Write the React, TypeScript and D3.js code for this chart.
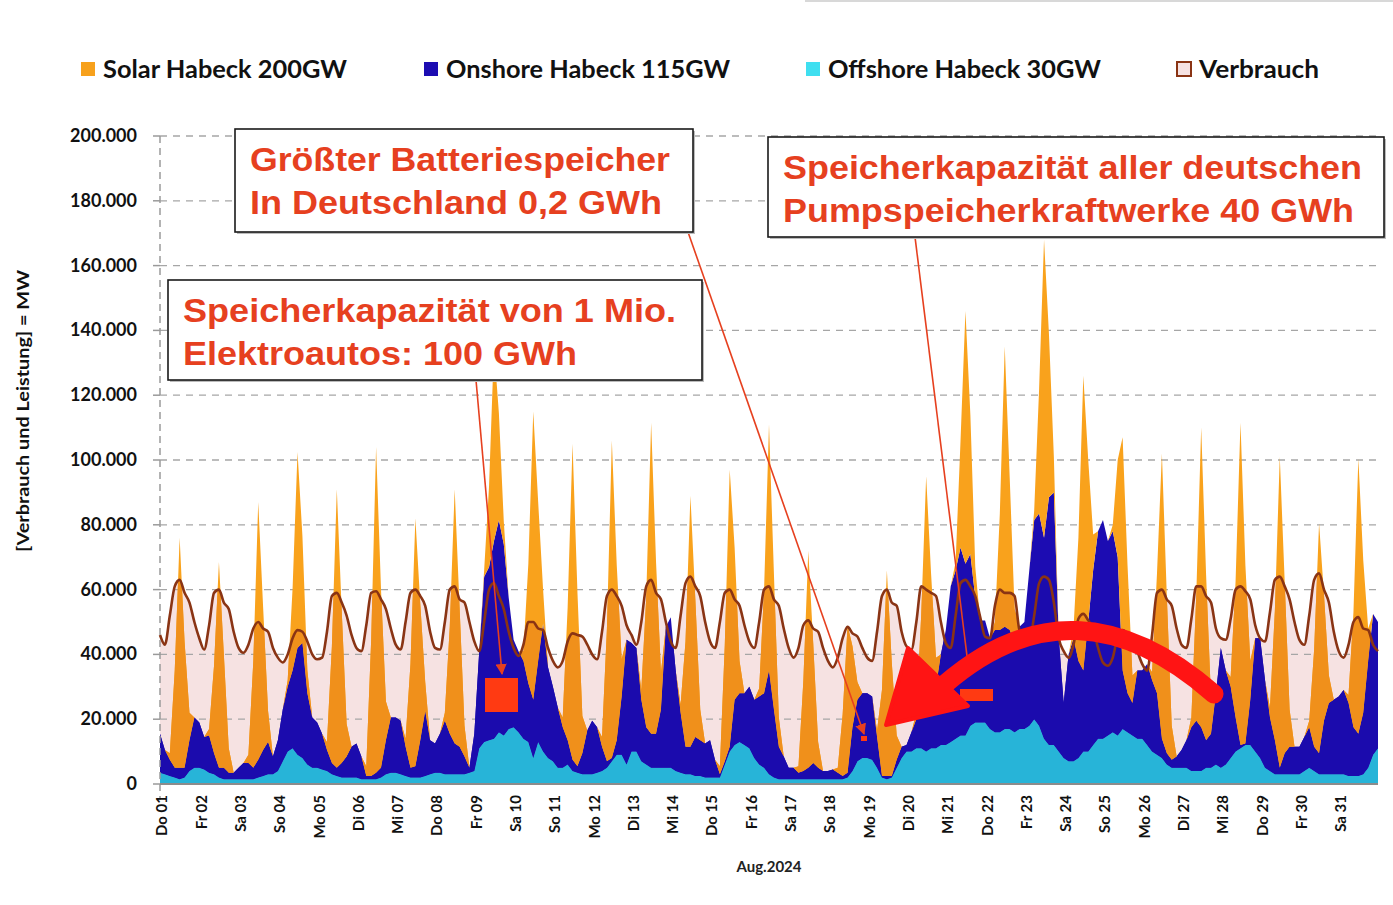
import React, { useEffect, useRef } from 'react';
import * as d3 from 'd3';

const dayLabels = ['Do 01', 'Fr 02', 'Sa 03', 'So 04', 'Mo 05', 'Di 06', 'Mi 07', 'Do 08', 'Fr 09', 'Sa 10', 'So 11', 'Mo 12', 'Di 13', 'Mi 14', 'Do 15', 'Fr 16', 'Sa 17', 'So 18', 'Mo 19', 'Di 20', 'Mi 21', 'Do 22', 'Fr 23', 'Sa 24', 'So 25', 'Mo 26', 'Di 27', 'Mi 28', 'Do 29', 'Fr 30', 'Sa 31'];

// all values in 1000 MW, one row per day, 3-hour steps 00,03,06,09,12,15,18,21
const offshore = [
  [3.5, 3, 2.5, 2, 1.5, 2, 4, 5], [5, 4.5, 3.5, 3, 2, 1.5, 1.5, 1.5], [1.5, 1.5, 1.5, 1.5, 2, 2.5, 3, 3],
  [4, 7, 10, 11, 9, 8, 6, 5], [5, 4.5, 4, 3, 2.5, 2, 2, 2], [2, 1.5, 1.5, 1.5, 1.5, 2, 3, 3.5],
  [3.5, 3, 2.5, 2, 2, 2, 2.5, 3], [3.5, 3.5, 3, 3, 3, 3, 3, 3.5], [4, 11, 13, 13.5, 14, 16, 15, 17],
  [17.5, 16, 14, 13, 8, 13, 10, 8], [7, 5, 5, 6, 4, 3.5, 3, 3], [3, 3.5, 4, 5, 7, 9, 9, 6],
  [10, 10, 7, 6, 5, 5, 5, 5], [5, 4, 3.5, 3, 3, 2.5, 2.5, 2], [2, 2, 2, 6, 10, 12, 13, 12],
  [11, 8, 6, 5, 3, 2, 1.5, 1.5], [1.5, 1.5, 1.5, 1.5, 1.5, 1.5, 1.5, 1.5], [1.5, 1.5, 1.5, 1.5, 2, 4, 7, 8],
  [8, 7.5, 5, 2, 1.5, 2, 5, 8], [10, 10, 11, 11, 10, 11, 11, 12], [12, 13, 14, 15, 15, 18, 19, 19],
  [19, 17, 16, 16, 17, 17, 16, 17], [17, 18, 20, 18, 14, 12, 12, 10], [8, 7, 7, 8, 10, 10, 12, 14],
  [14, 15, 16, 15, 17, 16, 15, 14], [14, 12, 10, 9, 8, 6, 5, 5], [5, 5, 4, 4, 4, 5, 5, 6],
  [5, 6, 8, 10, 11, 12, 12, 10], [8, 5, 4, 3, 3, 3, 3, 3], [3, 4, 5, 4, 3, 3, 3, 3],
  [3, 3, 2.5, 2.5, 2.5, 3, 5, 9],
];

const onshore = [
  [12, 7.5, 5, 3, 3.5, 3, 9.5, 15.5], [14, 10, 11.5, 6.5, 3, 3.5, 2, 2], [3.5, 5, 5, 3.5, 5.5, 8, 10, 5.5],
  [9.5, 16, 20, 24, 33, 35.5, 22, 15.5], [14, 11, 6.5, 3.5, 2.5, 4.5, 6.5, 9.5], [10.5, 7, 1, 1, 2, 3, 10.5, 17],
  [17, 16.5, 9, 3, 3.5, 11.5, 20, 10.5], [9, 12, 16.5, 12.5, 9.5, 8.5, 5.5, 1.5], [11.5, 30, 51, 53.5, 61, 65.5, 59, 40.5],
  [27, 25, 24, 18, 18, 25, 39.5, 28], [23, 18.5, 12.5, 7.5, 3.5, 2, 6.5, 13.5], [16.5, 14, 7.5, 2, 1, 4.5, 18, 38.5],
  [33.5, 32, 19, 11.5, 10.5, 10.5, 18, 43.5], [46.5, 31, 18.5, 8.5, 8.5, 12, 11, 10.5], [11.5, 5.5, 1, 1, 1.5, 14, 15, 16],
  [19, 18, 21, 23, 32, 21, 10, 7], [3.5, 3.5, 2, 2.5, 3.5, 5, 3.5, 2.5], [2.5, 3, 2, 1, 1.5, 13.5, 19, 20],
  [20, 19.5, 9.5, 0.5, 1, 0.5, 2.5, 3.5], [2, 6, 9, 11, 12, 14, 19, 28], [35.5, 48, 52, 58, 53, 53, 38.5, 31.5],
  [31.5, 28, 31.5, 31.5, 31.5, 30.5, 27.5, 31.5], [33, 48, 61.5, 65.5, 62, 76.5, 78, 35], [17, 33, 38, 30, 25, 40, 54, 64],
  [67.5, 60, 62, 55, 18, 12, 10, 21], [21, 25, 22, 19, 6, 3.5, 2.5, 3.5], [5.5, 8.5, 13.5, 15.5, 13.5, 8.5, 10.5, 22],
  [37, 29, 22, 10.5, 1, 0.5, 14, 35], [37, 27, 16.5, 10.5, 2, 6.5, 8.5, 8.5], [8.5, 10.5, 12.5, 7.5, 6.5, 16.5, 22, 23],
  [24, 26, 22.5, 15, 13, 19, 33, 43.5],
];

// solar only during daylight: 06,09,12,15,18 h
const solar = [
  [2, 30, 71, 39, 8.5], [2, 27, 63.5, 35, 7.5], [2.5, 33, 79.5, 44, 9.5], [2, 25.5, 60.5, 33, 7],
  [2.5, 36, 86, 47, 10], [3, 42, 100.5, 55, 12], [2.5, 32, 76.5, 42, 9], [2.5, 33, 78.5, 43, 9.5],
  [2, 25, 60, 33, 7], [3, 37, 89, 49, 10.5], [3, 41, 97.5, 53.5, 11.5], [3, 41, 98, 54, 11.5],
  [3, 40, 96, 53, 11.5], [2.5, 32.5, 77.5, 42.5, 9.5], [2.5, 36, 85.5, 47, 10], [2.5, 32, 76, 42, 9],
  [2, 28, 67, 37, 8], [1.5, 19, 45.5, 25, 5.5], [2, 26.5, 63.5, 35, 7.5], [2, 30.5, 73, 40, 9],
  [2.5, 33, 78, 43, 9.5], [2.5, 36, 86.5, 47.5, 10.5], [3, 38.5, 92, 50.5, 11], [3, 38, 91, 50, 11],
  [2, 30, 72, 39.5, 8.5], [2.5, 37, 88, 48.5, 10.5], [3, 39, 92.5, 51, 11], [3, 42, 99.5, 55, 12],
  [3, 40, 96, 53, 11.5], [2, 30, 71, 39, 8.5], [2.5, 35.5, 85, 47, 10],
];

const verbrauch = [
  [46, 43, 52, 61, 63, 59, 56, 50], [45, 41.5, 49, 59, 60, 56, 54, 47], [42, 40.5, 43, 48, 50, 48, 47, 42],
  [39, 37.5, 40, 45, 47.5, 47, 44, 40], [38.5, 39, 47, 58, 59, 56, 52, 46], [42, 41, 49, 59, 59.5, 57, 54, 48],
  [43, 41.5, 50, 59, 60, 58, 55, 47], [42, 41.5, 50, 60, 61, 57, 56, 50], [44, 41, 50, 60, 62, 58, 54, 47],
  [42, 39.5, 43, 50, 50, 48, 47.5, 42], [38, 36, 38, 44, 46.5, 46, 45.5, 43], [40, 38.5, 47, 58, 60, 58, 55, 49],
  [46, 43, 50, 61, 63, 59, 57, 50], [44, 42, 52, 62, 64, 61, 58, 50], [44, 42, 50, 59, 60, 57, 55, 49],
  [44, 42, 50, 60, 61, 57, 55, 48], [42, 39, 42, 49, 50.5, 48, 47, 42], [38, 36, 39, 45, 48.5, 46.5, 45.5, 42],
  [39, 38, 47, 58, 60, 56, 55, 47], [42.5, 41.5, 50, 61, 60, 59, 58, 50], [43.5, 42, 52, 62, 63, 61, 58, 51.5],
  [45.5, 45, 55, 60, 59, 59, 58, 47.5], [45.5, 44, 52, 62, 64, 63, 56, 45], [41, 39, 43, 51, 52.5, 50.5, 48, 42],
  [37.5, 36.5, 39, 45.5, 47.5, 46.5, 45.5, 41], [37, 35, 46, 59, 60, 57, 55, 48], [43, 42, 51, 61, 61, 58, 56, 48],
  [45, 44.5, 51, 60, 61, 59.5, 57, 49], [45, 44, 53, 63, 64, 61, 57, 50], [44.5, 43, 52, 63, 65, 60, 56, 47],
  [41, 39, 43, 50, 51.5, 48, 47.5, 43],
];

// last point (01.09. 00:00)
const endOffshore = 11;
const endOnshore = 39;
const endVerbrauch = 41;

const yTicks = [0, 20000, 40000, 60000, 80000, 100000, 120000, 140000, 160000, 180000, 200000];

const legendLabels = ['Solar Habeck 200GW', 'Onshore Habeck 115GW', 'Offshore Habeck 30GW', 'Verbrauch'];
const legendColors = ['#f7a11c', '#1c0cb2', '#3fdff0', '#f6e2e2'];

const FONT = "Lato, 'Open Sans', sans-serif";
const ANNO = "'Liberation Sans', Arial, sans-serif";

const App = () => {
  const chartRef = useRef(null);

  useEffect(() => {
    document.body.style.margin = '0';
    drawChart();
  }, []);

  const drawChart = () => {
    const margin = { top: 136, right: 15, bottom: 121, left: 160 };
    const width = 1393;
    const height = 905;
    const svg = d3.select(chartRef.current);
    svg.selectAll('*').remove();

    const rows = [];
    dayLabels.forEach((_, d) => {
      for (let h = 0; h < 8; h++) {
        rows.push({
          t: d + h / 8,
          offshore: offshore[d][h] * 1000,
          onshore: onshore[d][h] * 1000,
          solar: (h >= 2 && h <= 6 ? solar[d][h - 2] : 0) * 1000,
          verbrauch: verbrauch[d][h] * 1000,
        });
      }
    });
    rows.push({ t: 31, offshore: endOffshore * 1000, onshore: endOnshore * 1000, solar: 0, verbrauch: endVerbrauch * 1000 });

    const x = d3.scaleLinear().domain([0, 31]).range([margin.left, width - margin.right]);
    const y = d3.scaleLinear().domain([0, 200000]).range([height - margin.bottom, margin.top]);

    const loc = d3.formatLocale({ decimal: ',', thousands: '.', grouping: [3], currency: ['', ''] });
    const fmt = loc.format(',');

    // legend
    const legendX = [81, 424, 806, 1177];
    const legendW = [244, 284, 273, 120];
    legendLabels.forEach((label, i) => {
      svg.append('rect')
        .attr('x', legendX[i]).attr('y', 62).attr('width', 14).attr('height', 14)
        .attr('fill', legendColors[i])
        .attr('stroke', i === 3 ? '#8a3414' : 'none').attr('stroke-width', 2);
      svg.append('text')
        .attr('x', legendX[i] + 22).attr('y', 78)
        .attr('font-family', FONT).attr('font-weight', 700).attr('font-size', 24)
        .attr('fill', '#111')
        .attr('textLength', legendW[i]).attr('lengthAdjust', 'spacingAndGlyphs')
        .text(label);
    });

    const verbrauchArea = d3.area()
      .x((d) => x(d.t))
      .y0(y(0))
      .y1((d) => y(d.verbrauch))
      .curve(d3.curveMonotoneX);

    const defs = svg.append('defs');
    defs.append('clipPath').attr('id', 'underLoad')
      .append('path').datum(rows).attr('d', verbrauchArea);

    // consumption background
    svg.append('path')
      .datum(rows)
      .attr('d', verbrauchArea)
      .attr('fill', '#f6e2e2');

    // grid
    svg.append('g')
      .selectAll('line')
      .data(yTicks.slice(1))
      .enter()
      .append('line')
      .attr('x1', x(0)).attr('x2', x(31))
      .attr('y1', (d) => y(d)).attr('y2', (d) => y(d))
      .attr('stroke', '#a6a6a6').attr('stroke-width', 1.3)
      .attr('stroke-dasharray', '7,6');

    // stacked generation
    const stack = d3.stack().keys(['offshore', 'onshore', 'solar']);
    const series = stack(rows);
    const colors = { offshore: '#27b4d8', onshore: '#1c0cb2', solar: '#f9a21c' };
    const tinted = { offshore: '#27b4d8', onshore: '#1b0bad', solar: '#f0901b' };
    const area = d3.area()
      .x((d) => x(d.data.t))
      .y0((d) => y(d[0]))
      .y1((d) => y(d[1]));

    svg.append('g')
      .selectAll('path')
      .data(series)
      .enter()
      .append('path')
      .attr('d', area)
      .attr('fill', (s) => colors[s.key]);

    // below the consumption curve the generation looks slightly tinted
    svg.append('g')
      .attr('clip-path', 'url(#underLoad)')
      .selectAll('path')
      .data(series)
      .enter()
      .append('path')
      .attr('d', area)
      .attr('fill', (s) => tinted[s.key]);

    const line = d3.line()
      .x((d) => x(d.t))
      .y((d) => y(d.verbrauch))
      .curve(d3.curveMonotoneX);
    svg.append('path')
      .datum(rows)
      .attr('d', line)
      .attr('fill', 'none')
      .attr('stroke', '#8a3414')
      .attr('stroke-width', 2.6);

    // y axis
    svg.append('line')
      .attr('x1', x(0)).attr('x2', x(0)).attr('y1', y(200000)).attr('y2', y(0) + 16)
      .attr('stroke', '#9a9a9a').attr('stroke-width', 1.5).attr('stroke-dasharray', '7,5');
    svg.append('g')
      .selectAll('line')
      .data(yTicks)
      .enter()
      .append('line')
      .attr('x1', x(0) - 7).attr('x2', x(0))
      .attr('y1', (d) => y(d)).attr('y2', (d) => y(d))
      .attr('stroke', '#9a9a9a').attr('stroke-width', 1.5);
    svg.append('g')
      .selectAll('text')
      .data(yTicks)
      .enter()
      .append('text')
      .attr('x', 137).attr('y', (d) => y(d) + 6)
      .attr('text-anchor', 'end')
      .attr('font-family', FONT).attr('font-weight', 700).attr('font-size', 18)
      .attr('fill', '#111')
      .text((d) => fmt(d));

    svg.append('text')
      .attr('transform', 'translate(29, 411) rotate(-90)')
      .attr('text-anchor', 'middle')
      .attr('font-family', FONT).attr('font-weight', 700).attr('font-size', 17)
      .attr('fill', '#111')
      .attr('textLength', 282).attr('lengthAdjust', 'spacingAndGlyphs')
      .text('[Verbrauch und Leistung] = MW');

    // x axis
    svg.append('line')
      .attr('x1', x(0)).attr('x2', x(31)).attr('y1', y(0)).attr('y2', y(0))
      .attr('stroke', '#8c8c8c').attr('stroke-width', 2);
    svg.append('g')
      .selectAll('text')
      .data(dayLabels)
      .enter()
      .append('text')
      .attr('transform', (d, i) => `translate(${x(i) + 2}, ${y(0) + 11}) rotate(-90)`)
      .attr('text-anchor', 'end')
      .attr('dy', '0.36em')
      .attr('font-family', FONT).attr('font-weight', 700).attr('font-size', 15)
      .attr('fill', '#111')
      .text((d) => d);
    svg.append('text')
      .attr('x', 769).attr('y', 872)
      .attr('text-anchor', 'middle')
      .attr('font-family', FONT).attr('font-weight', 700).attr('font-size', 15)
      .attr('fill', '#222')
      .text('Aug.2024');

    // annotations
    const red = '#e6401f';
    defs.append('marker')
      .attr('id', 'head')
      .attr('viewBox', '0 0 10 10')
      .attr('refX', 9).attr('refY', 5)
      .attr('markerWidth', 7).attr('markerHeight', 7)
      .attr('orient', 'auto')
      .append('path')
      .attr('d', 'M0,0 L10,5 L0,10 Z')
      .attr('fill', red);

    svg.append('rect').attr('x', 485).attr('y', 678).attr('width', 33).attr('height', 34).attr('fill', '#ff3a12');
    svg.append('rect').attr('x', 960).attr('y', 689).attr('width', 33).attr('height', 12).attr('fill', '#ff3a12');
    svg.append('rect').attr('x', 861).attr('y', 736).attr('width', 6).attr('height', 5).attr('fill', '#ff3a12');

    const pointers = [
      [476, 380, 502, 674],
      [688, 232, 864, 734],
      [915, 237, 969, 672],
    ];
    pointers.forEach(([x1, y1, x2, y2]) => {
      svg.append('line')
        .attr('x1', x1).attr('y1', y1).attr('x2', x2).attr('y2', y2)
        .attr('stroke', red).attr('stroke-width', 1.6)
        .attr('marker-end', 'url(#head)');
    });

    // big curved arrow
    svg.append('path')
      .attr('d', 'M1214,694 Q1075,572 945,684')
      .attr('fill', 'none')
      .attr('stroke', '#ff1414')
      .attr('stroke-width', 19)
      .attr('stroke-linecap', 'round');
    svg.append('path')
      .attr('d', 'M908,648 L886,725 L968,706 Z')
      .attr('fill', '#ff1414')
      .attr('stroke', '#ff1414')
      .attr('stroke-width', 4)
      .attr('stroke-linejoin', 'round');

    const boxes = [
      { x: 235, y: 129, w: 458, h: 103, lines: ['Größter Batteriespeicher', 'In Deutschland 0,2 GWh'], lens: [420, 412] },
      { x: 768, y: 137, w: 616, h: 100, lines: ['Speicherkapazität aller deutschen', 'Pumpspeicherkraftwerke 40 GWh'], lens: [579, 571] },
      { x: 168, y: 280, w: 534, h: 100, lines: ['Speicherkapazität von 1 Mio.', 'Elektroautos: 100 GWh'], lens: [493, 394] },
    ];
    boxes.forEach((b) => {
      svg.append('rect')
        .attr('x', b.x + 2).attr('y', b.y + 2).attr('width', b.w).attr('height', b.h)
        .attr('fill', '#bbb');
      svg.append('rect')
        .attr('x', b.x).attr('y', b.y).attr('width', b.w).attr('height', b.h)
        .attr('fill', '#fff').attr('stroke', '#1a1a1a').attr('stroke-width', 1.6);
      b.lines.forEach((t, i) => {
        svg.append('text')
          .attr('x', b.x + 15).attr('y', b.y + 42 + i * 43)
          .attr('font-family', ANNO).attr('font-weight', 700).attr('font-size', 34)
          .attr('fill', red)
          .attr('textLength', b.lens[i]).attr('lengthAdjust', 'spacingAndGlyphs')
          .text(t);
      });
    });

    svg.append('line')
      .attr('x1', 805).attr('x2', 1393).attr('y1', 1).attr('y2', 1)
      .attr('stroke', '#d8d8d8').attr('stroke-width', 2);
  };

  return <svg ref={chartRef} width={1393} height={905} style={{ display: 'block', background: '#fff' }} />;
};

export default App;
